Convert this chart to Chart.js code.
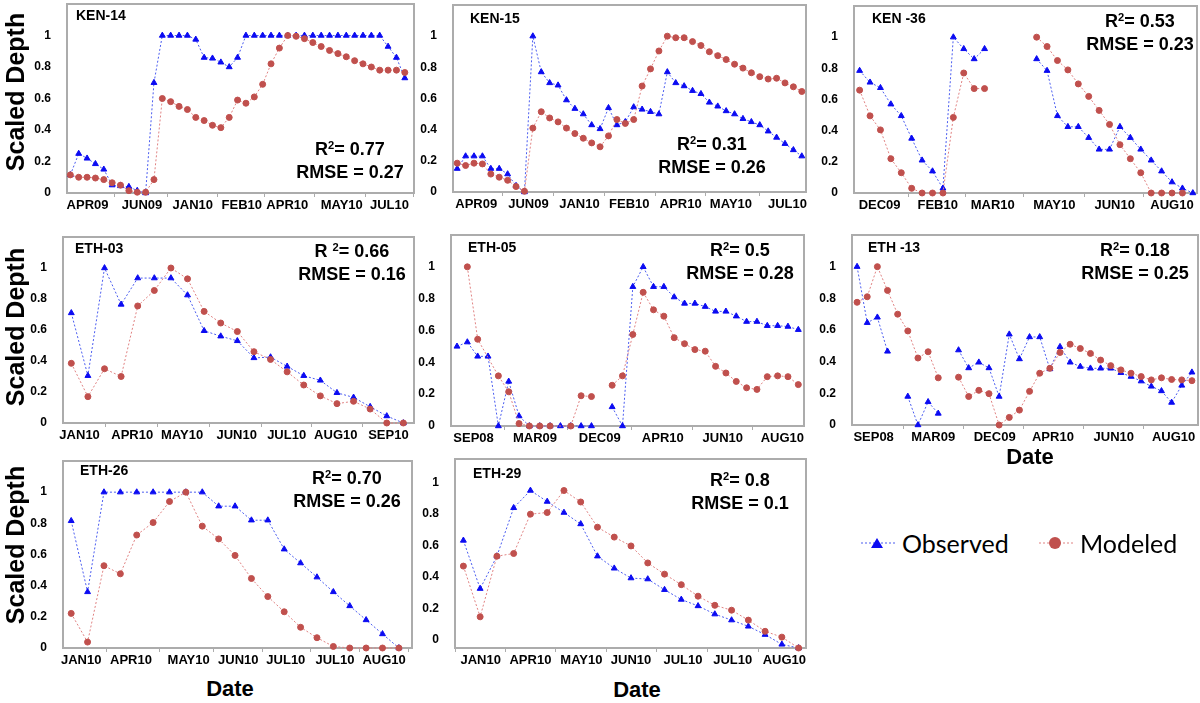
<!DOCTYPE html>
<html>
<head>
<meta charset="utf-8">
<title>Scaled depth: observed vs modeled</title>
<script src="https://cdn.jsdelivr.net/npm/chart.js@4.4.1/dist/chart.umd.min.js"></script>
<style>
  body { margin: 0; width: 1200px; height: 703px; position: relative; background: #fff; overflow: hidden;
         font-family: "Liberation Sans", Arial, sans-serif; color: #000; }
  canvas { position: absolute; }
  .name { position: absolute; font-weight: bold; font-size: 14px; line-height: 16px; white-space: nowrap; }
  .stats { position: absolute; font-weight: bold; font-size: 18px; line-height: 23px; text-align: center;
           width: 140px; white-space: nowrap; }
  .stats sup { font-size: 0.62em; line-height: 0; vertical-align: 0.5em; }
  .ytitle { position: absolute; font-weight: bold; font-size: 25px; white-space: nowrap;
            transform: translate(-50%, -50%) rotate(-90deg); }
  .xtitle { position: absolute; font-weight: bold; font-size: 22px; white-space: nowrap;
            transform: translate(-50%, -50%); }
  .legend { position: absolute; font-family: Lato, "Open Sans", sans-serif; font-size: 25px; line-height: 30px; white-space: nowrap; }
  svg { position: absolute; }
</style>
</head>
<body>
<script>
// ---- data (x = sample number, y = scaled depth) ----
// null = break in the line, '-' = no marker (line carries on)
const yTickValues = [0, 0.2, 0.4, 0.6, 0.8, 1];

const ken14Labels = ['APR09', 'JUN09', 'JAN10', 'FEB10', 'APR10', 'MAY10', 'JUL10'];
const ken14TickPos = [2.06, 8.57, 14.64, 20.5, 25.95, 32.46, 38.17];
const ken14Obs = [0.115, 0.25, 0.22, 0.185, 0.15, 0.05, 0.045, 0.04, 0.015, 0.0,
  0.70, 1, 1, 1, 1, 0.975, 0.86, 0.855, 0.83, 0.80,
  0.86, 1, 1, 1, 1, 1, 1, 1, 1, 1,
  1, 1, 1, 1, 1, 1, 1, 1, 0.93, 0.86, 0.73];
const ken14Mod = [0.115, 0.10, 0.10, 0.095, 0.085, 0.065, 0.05, 0.015, 0.005, 0.005,
  0.085, 0.60, 0.58, 0.55, 0.53, 0.48, 0.46, 0.43, 0.415, 0.48,
  0.59, 0.57, 0.61, 0.69, 0.82, 0.92, 1.0, 0.995, 0.98, 0.955,
  0.93, 0.905, 0.885, 0.865, 0.84, 0.82, 0.80, 0.78, 0.78, 0.78, 0.765];

const ken15Labels = ['APR09', 'JUN09', 'JAN10', 'FEB10', 'APR10', 'MAY10', 'JUL10'];
const ken15TickPos = [2.26, 8.48, 14.54, 20.48, 26.6, 32.57, 39.3];
const ken15Obs = [0.15, 0.23, 0.23, 0.23, 0.15, 0.15, 0.115, 0.04, 0.0, 1.0,
  0.77, 0.70, 0.685, 0.59, 0.535, 0.50, 0.43, 0.405, 0.54, 0.43,
  0.45, 0.545, 0.53, 0.515, 0.50, 0.77, 0.70, 0.68, 0.65, 0.63,
  0.575, 0.55, 0.52, 0.50, 0.47, 0.45, 0.43, 0.39, 0.35, 0.31, 0.27, 0.23];
const ken15Mod = [0.185, 0.17, 0.185, 0.18, 0.115, 0.095, 0.075, 0.035, 0.005, 0.41,
  0.515, 0.475, 0.45, 0.41, 0.375, 0.345, 0.315, 0.29, 0.36, 0.465,
  0.44, 0.465, 0.68, 0.79, 0.905, 1.0, 0.99, 0.99, 0.965, 0.94,
  0.90, 0.875, 0.85, 0.82, 0.795, 0.765, 0.74, 0.725, 0.73, 0.70, 0.675, 0.645];

const ken36Labels = ['DEC09', 'FEB10', 'MAR10', 'MAY10', 'JUN10', 'AUG10'];
const ken36TickPos = [1.92, 7.5, 12.78, 18.7, 24.5, 30.0];
const ken36Obs = [0.785, 0.71, 0.675, 0.57, 0.495, 0.35, 0.21, 0.14, 0.03, 1.0,
  0.925, 0.86, 0.925, null, null, null, null, 0.86, 0.785, 0.495,
  0.425, 0.425, 0.355, 0.28, 0.28, 0.425, 0.355, 0.28, 0.21, 0.14,
  0.07, 0.03, 0.0];
const ken36Mod = [0.66, 0.495, 0.405, 0.22, 0.13, 0.03, 0, 0, 0, 0.485,
  0.77, 0.67, 0.67, null, null, null, null, 1.0, 0.94, 0.85,
  0.79, 0.70, 0.62, 0.53, 0.44, 0.31, 0.22, 0.13, 0, 0,
  0, 0, null];

const eth03Labels = ['JAN10', 'APR10', 'MAY10', 'JUN10', 'JUL10', 'AUG10', 'SEP10'];
const eth03TickPos = [0.5, 3.67, 6.67, 9.96, 12.97, 15.93, 19.1];
const eth03Obs = [0.71, 0.305, 1.0, 0.765, 0.935, 0.935, 0.935, 0.825, 0.595, 0.56,
  0.53, 0.42, 0.425, 0.365, 0.305, 0.275, 0.195, 0.165, 0.105, 0.045, 0.0];
const eth03Mod = [0.385, 0.17, 0.35, 0.30, 0.755, 0.855, 1.0, 0.93, 0.72, 0.645,
  0.59, 0.46, 0.41, 0.33, 0.245, 0.175, 0.125, 0.14, 0.09, 0.0, 0.0];

const eth05Labels = ['SEP08', 'MAR09', 'DEC09', 'APR10', 'JUN10', 'AUG10'];
const eth05TickPos = [1.6, 7.54, 13.8, 19.9, 25.7, 31.46];
const eth05Obs = [0.50, 0.527, 0.4375, 0.4375, 0.0, 0.28, 0.0625, 0, 0, 0,
  0, 0, 0, 0, null, 0.12, 0.0, 0.875, 1.0, 0.875,
  0.875, 0.81, 0.77, 0.77, 0.75, 0.72, 0.72, 0.69, 0.656, 0.656,
  0.63, 0.63, 0.625, 0.605];
const eth05Mod = ['-', 1.0, 0.545, '-', 0.315, 0.215, 0.015, 0, 0, 0,
  '-', 0, 0.19, 0.185, null, 0.256, 0.315, 0.575, 0.84, 0.73,
  0.69, 0.555, 0.517, 0.48, 0.47, 0.375, 0.333, 0.28, 0.24, 0.23,
  0.31, 0.315, 0.31, 0.26];

const eth13Labels = ['SEP08', 'MAR09', 'DEC09', 'APR10', 'JUN10', 'AUG10'];
const eth13TickPos = [1.63, 7.5, 13.56, 19.3, 25.3, 31.2];
const eth13Obs = [1.0, 0.646, 0.68, 0.465, null, 0.18, 0.0, 0.146, 0.073, null,
  0.473, 0.36, 0.396, 0.36, 0.18, 0.573, 0.417, 0.556, 0.556, 0.354,
  0.494, 0.396, 0.369, 0.358, 0.358, 0.358, 0.33, 0.306, 0.277, 0.244,
  0.215, 0.142, 0.25, 0.333];
const eth13Mod = [0.775, 0.81, 1.0, 0.85, 0.70, 0.594, 0.423, 0.4625, 0.298, null,
  0.302, 0.18, 0.219, 0.198, 0.0, 0.048, 0.094, 0.2125, 0.327, 0.358,
  0.458, 0.51, 0.483, 0.452, 0.41, 0.375, 0.348, 0.327, 0.306, 0.285,
  0.298, 0.2875, 0.285, 0.28];

const eth26Labels = ['JAN10', 'APR10', 'MAY10', 'JUN10', 'JUL10', 'JUL10', 'AUG10'];
const eth26TickPos = [0.61, 3.65, 7.17, 10.2, 13.1, 16.1, 19.1];
const eth26Obs = [0.816, 0.36, 1, 1, 1, 1, 1, 1, 1, 0.91,
  0.91, 0.82, 0.82, 0.634, 0.545, 0.4545, 0.36, 0.27, 0.18, 0.09, 0.0];
const eth26Mod = [0.222, 0.038, 0.528, 0.476, 0.725, 0.805, 0.94, 1.0, 0.782, 0.70,
  0.594, 0.446, 0.33, 0.2325, 0.133, 0.066, 0.01, 0, 0, 0, 0];

const eth29Labels = ['JAN10', 'APR10', 'MAY10', 'JUN10', 'JUL10', 'JUL10', 'AUG10'];
const eth29TickPos = [1.03, 4.0, 7.04, 10.0, 13.1, 16.07, 19.15];
const eth29Obs = [0.683, 0.377, 0.583, 0.89, 1.0, 0.93, 0.86, 0.7875, 0.583, 0.506,
  0.444, 0.4375, 0.37, 0.308, 0.267, 0.215, 0.177, 0.1375, 0.085, 0.023, 0.0];
const eth29Mod = [0.52, 0.198, 0.583, 0.60, 0.85, 0.86, 1.0, 0.927, 0.767, 0.704,
  0.648, 0.54, 0.469, 0.402, 0.329, 0.271, 0.24, 0.177, 0.106, 0.069, 0.0];

// ---- panel layout: plot box [left, top, right, bottom] in page pixels ----
const panels = [
  { name: 'KEN-14', r2: 'R<sup>2</sup>= 0.77', rmse: 'RMSE = 0.27', obs: ken14Obs, mod: ken14Mod,
    labels: ken14Labels, ticks: ken14TickPos, xMin: -0.4, xMax: 41.1,
    box: [67, 2, 415, 193], namePos: [76, 7], statsPos: [350, 138] },
  { name: 'KEN-15', r2: 'R<sup>2</sup>= 0.31', rmse: 'RMSE = 0.26', obs: ken15Obs, mod: ken15Mod,
    labels: ken15Labels, ticks: ken15TickPos, xMin: -0.5, xMax: 41.5,
    box: [453, 3, 807, 192], namePos: [470, 10], statsPos: [712, 133] },
  { name: 'KEN -36', r2: 'R<sup>2</sup>= 0.53', rmse: 'RMSE = 0.23', obs: ken36Obs, mod: ken36Mod,
    labels: ken36Labels, ticks: ken36TickPos, xMin: -0.54, xMax: 32.4,
    box: [854, 4, 1198, 193], namePos: [872, 10], statsPos: [1140, 10] },
  { name: 'ETH-03', r2: 'R <sup>2</sup>= 0.66', rmse: 'RMSE = 0.16', obs: eth03Obs, mod: eth03Mod,
    labels: eth03Labels, ticks: eth03TickPos, xMin: -0.5, xMax: 20.64,
    box: [63, 235, 415, 423], namePos: [75, 240], statsPos: [352, 240] },
  { name: 'ETH-05', r2: 'R<sup>2</sup>= 0.5', rmse: 'RMSE = 0.28', obs: eth05Obs, mod: eth05Mod,
    labels: eth05Labels, ticks: eth05TickPos, xMin: -0.58, xMax: 33.55,
    box: [451, 233, 805, 426], namePos: [468, 239], statsPos: [740, 239] },
  { name: 'ETH -13', r2: 'R<sup>2</sup>= 0.18', rmse: 'RMSE = 0.25', obs: eth13Obs, mod: eth13Mod,
    labels: eth13Labels, ticks: eth13TickPos, xMin: -0.5, xMax: 33.6,
    box: [852, 233, 1199, 425], namePos: [868, 239], statsPos: [1135, 239] },
  { name: 'ETH-26', r2: 'R<sup>2</sup>= 0.70', rmse: 'RMSE = 0.26', obs: eth26Obs, mod: eth26Mod,
    labels: eth26Labels, ticks: eth26TickPos, xMin: -0.5, xMax: 20.8,
    box: [63, 459, 413, 648], namePos: [80, 462], statsPos: [347, 467] },
  { name: 'ETH-29', r2: 'R<sup>2</sup>= 0.8', rmse: 'RMSE = 0.1', obs: eth29Obs, mod: eth29Mod,
    labels: eth29Labels, ticks: eth29TickPos, xMin: -0.5, xMax: 20.44,
    box: [455, 457, 807, 648], namePos: [473, 465], statsPos: [740, 469], yLabelOffset: -8 }
];

const OBS_COLOR = '#0b0bf2';
const OBS_LINE = '#4a5cf0';
const MOD_COLOR = '#c0504d';
const MOD_LINE = '#e08282';
const tickFont = { family: '"Liberation Sans", Arial, sans-serif', weight: 'bold', size: 13 };

// grey box around each plot area
const framePlugin = {
  id: 'frame',
  beforeDatasetsDraw(chart) {
    const { ctx, chartArea: a } = chart;
    ctx.save();
    ctx.strokeStyle = '#acacac';
    ctx.lineWidth = 2;
    ctx.strokeRect(a.left, a.top, a.right - a.left, a.bottom - a.top);
    ctx.restore();
  }
};

function series(values, label, color, lineColor, style, radius) {
  return {
    label: label,
    data: values.map((v, i) => ({ x: i, y: v })).filter(p => p.y !== '-'),
    borderColor: lineColor,
    borderWidth: 1,
    borderDash: [2, 2],
    pointStyle: style,
    pointRadius: radius,
    pointBackgroundColor: color,
    pointBorderColor: color,
    pointBorderWidth: 1,
    spanGaps: false,
    tension: 0,
    clip: false
  };
}

function addText(cls, html, left, top) {
  const el = document.createElement('div');
  el.className = cls;
  el.innerHTML = html;
  el.style.left = left + 'px';
  el.style.top = top + 'px';
  document.body.appendChild(el);
  return el;
}

function makePanel(p) {
  const [L, T, R, B] = p.box;
  const YW = 40, XH = 26, PT = 3, PR = 4;
  const w = R - L + YW + PR;
  const h = B - T + PT + XH;
  const canvas = document.createElement('canvas');
  canvas.width = w;
  canvas.height = h;
  canvas.style.left = (L - YW) + 'px';
  canvas.style.top = (T - PT) + 'px';
  canvas.style.width = w + 'px';
  canvas.style.height = h + 'px';
  document.body.appendChild(canvas);

  new Chart(canvas, {
    type: 'line',
    data: {
      datasets: [
        series(p.mod, 'Modeled', MOD_COLOR, MOD_LINE, 'circle', 3),
        series(p.obs, 'Observed', OBS_COLOR, OBS_LINE, 'triangle', 3.4)
      ]
    },
    options: {
      responsive: false,
      animation: false,
      devicePixelRatio: 1,
      layout: { padding: { top: PT, right: PR, left: 0, bottom: 0 } },
      plugins: { legend: { display: false }, tooltip: { enabled: false } },
      scales: {
        x: {
          type: 'linear',
          min: p.xMin,
          max: p.xMax,
          afterBuildTicks: s => { s.ticks = p.ticks.map(v => ({ value: v })); },
          afterFit: s => { s.height = XH; s.paddingLeft = 0; s.paddingRight = 0; },
          ticks: {
            autoSkip: false, maxRotation: 0, padding: 1, color: '#000', font: tickFont,
            callback: (v, i) => p.labels[i]
          },
          grid: { offset: true, drawOnChartArea: false, tickLength: 4, color: '#acacac' },
          border: { display: false }
        },
        y: {
          min: 0,
          max: 1.2,
          afterBuildTicks: s => { s.ticks = yTickValues.map(v => ({ value: v })); },
          afterFit: s => { s.width = YW; s.paddingTop = 0; s.paddingBottom = 0; },
          ticks: {
            padding: 8, color: '#000', font: { ...tickFont, size: 12 }, labelOffset: p.yLabelOffset || 0,
            callback: v => String(v)
          },
          grid: { display: false },
          border: { display: false }
        }
      }
    },
    plugins: [framePlugin]
  });

  addText('name', p.name, p.namePos[0], p.namePos[1]);
  addText('stats', p.r2 + '<br>' + p.rmse, p.statsPos[0] - 70, p.statsPos[1]);
}

panels.forEach(makePanel);

// axis titles
[92, 327, 545].forEach(cy => addText('ytitle', 'Scaled Depth', 15, cy));
addText('xtitle', 'Date', 1030, 457);
addText('xtitle', 'Date', 230, 689);
addText('xtitle', 'Date', 637, 690);

// legend
const svgNS = 'http://www.w3.org/2000/svg';
function legendMark(left, color, lineColor, shape) {
  const svg = document.createElementNS(svgNS, 'svg');
  svg.setAttribute('width', 36);
  svg.setAttribute('height', 16);
  svg.style.left = left + 'px';
  svg.style.top = '535px';
  const line = document.createElementNS(svgNS, 'line');
  line.setAttribute('x1', 1); line.setAttribute('y1', 8);
  line.setAttribute('x2', 35); line.setAttribute('y2', 8);
  line.setAttribute('stroke', lineColor);
  line.setAttribute('stroke-width', 1.2);
  line.setAttribute('stroke-dasharray', '2 2');
  svg.appendChild(line);
  let m;
  if (shape === 'triangle') {
    m = document.createElementNS(svgNS, 'polygon');
    m.setAttribute('points', '11,13 23,13 17,3');
  } else {
    m = document.createElementNS(svgNS, 'circle');
    m.setAttribute('cx', 17); m.setAttribute('cy', 8); m.setAttribute('r', 6);
  }
  m.setAttribute('fill', color);
  svg.appendChild(m);
  document.body.appendChild(svg);
}
legendMark(860, OBS_COLOR, OBS_LINE, 'triangle');
addText('legend', 'Observed', 902, 528);
legendMark(1038, MOD_COLOR, MOD_LINE, 'circle');
addText('legend', 'Modeled', 1080, 528);
</script>
</body>
</html>
